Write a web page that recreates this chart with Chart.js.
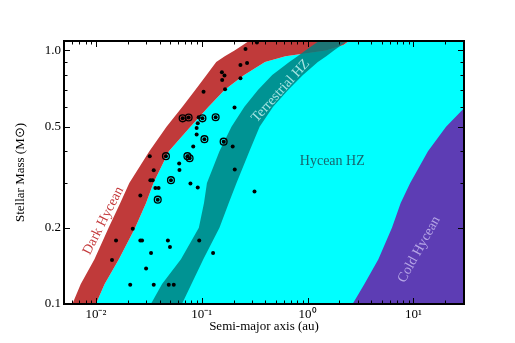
<!DOCTYPE html>
<html>
<head>
<meta charset="utf-8">
<script src="https://cdn.jsdelivr.net/npm/chart.js@4.4.0/dist/chart.umd.min.js"></script>
<style>
  html, body { margin: 0; padding: 0; background: #fff; }
  #wrap { width: 515px; height: 343px; }
</style>
</head>
<body>
<div id="wrap"><canvas id="chart" width="515" height="343"></canvas></div>
<script>
// stellar mass grid shared by the zone boundaries (M_sun)
const bandMass = [0.1, 0.12, 0.15, 0.2, 0.25, 0.3, 0.4, 0.5, 0.6, 0.7, 0.8, 0.9, 0.95, 1.0, 1.05, 1.1, 1.2];

// zone edges, semi-major axis (au) at each bandMass
const darkInner   = [0.0060, 0.0072, 0.0097, 0.0132, 0.0170, 0.0207, 0.0320, 0.0465, 0.0657, 0.0872, 0.111, 0.137, 0.165, 0.204, 0.245, 0.288, 0.40];
const hyceanInner = [0.0100, 0.0121, 0.0165, 0.0235, 0.0298, 0.0350, 0.0489, 0.0782, 0.116, 0.165, 0.252, 0.396, 0.618, 1.49, 2.18, 2.54, 3.52];
const terrInner   = [0.0331, 0.0422, 0.0636, 0.0939, 0.105, 0.112, 0.147, 0.191, 0.253, 0.341, 0.463, 0.671, 0.803, 0.953, 1.13, 1.32, 1.84];
const terrOuter   = [0.065, 0.080, 0.1035, 0.147, 0.180, 0.213, 0.282, 0.352, 0.472, 0.657, 0.903, 1.25, 1.50, 1.77, 2.09, 2.44, 3.30];
const coldInner   = [2.66, 3.44, 4.66, 6.26, 7.57, 9.31, 13.7, 20.3, 30.9, 45, 60, 80, 90, 100, 110, 120, 150];

// planets
const planetA = [0.259, 0.332, 0.232, 0.268, 0.155, 0.164, 0.156, 0.232, 0.166, 0.104, 0.204, 0.0935, 0.0917, 0.0895, 0.0895,
  0.0831, 0.196, 0.0323, 0.0612, 0.0616, 0.0352, 0.205, 0.0327, 0.0344, 0.0782, 0.0917, 0.0365, 0.0391, 0.0263, 0.315,
  0.0223, 0.0155, 0.0263, 0.0273, 0.0479, 0.0501, 0.0947, 0.0332, 0.128, 0.0142, 0.0298, 0.0211, 0.0352, 0.0488, 0.0544];
const planetMass = [1.013, 1.075, 0.877, 0.893, 0.820, 0.796, 0.765, 0.777, 0.704, 0.687, 0.596, 0.545, 0.516, 0.495, 0.466,
  0.418, 0.418, 0.383, 0.358, 0.338, 0.337, 0.339, 0.308, 0.308, 0.299, 0.288, 0.287, 0.287, 0.268, 0.278,
  0.198, 0.178, 0.178, 0.178, 0.178, 0.168, 0.178, 0.159, 0.159, 0.149, 0.138, 0.119, 0.119, 0.119, 0.119];
// planets drawn with a ring
const ringA = [0.066, 0.0752, 0.1015, 0.1353, 0.106, 0.161, 0.0459, 0.0732, 0.0768, 0.0512, 0.0384];
const ringMass = [0.540, 0.544, 0.540, 0.545, 0.447, 0.437, 0.383, 0.383, 0.376, 0.308, 0.258];

const xTickValues = [0.01, 0.1, 1, 10];
const xTickLabels = ["10\u207B\u00B2", "10\u207B\u00B9", "10\u2070", "10\u00B9"];
const yTickValues = [0.1, 0.2, 0.5, 1.0];
const yTickLabels = ["0.1", "0.2", "0.5", "1.0"];

const X_MIN = 0.005, X_MAX = 30, Y_MIN = 0.1, Y_MAX = 1.09;
const FAR = 1000;

const pts = (xs, ys) => xs.map((a, i) => ({ x: a, y: ys[i] }));
const band = (left, right) => pts(left, bandMass).concat(pts(right, bandMass).reverse());
const toRight = (edge) => [{ x: FAR, y: bandMass[0] }].concat(pts(edge, bandMass), [{ x: FAR, y: bandMass[bandMass.length - 1] }]);

function zone(data, color) {
  return {
    data: data,
    showLine: true,
    fill: "shape",
    backgroundColor: color,
    borderColor: "rgba(0,0,0,0)",
    borderWidth: 1,
    pointRadius: 0,
    tension: 0,
  };
}

const zoneLabels = [
  { text: "Dark Hycean", a: 0.01177, m: 0.2132, angle: -63, color: "#c4393b" },
  { text: "Terrestrial HZ", a: 0.555, m: 0.693, angle: -48, color: "#a6e4e2" },
  { text: "Hycean HZ", a: 1.71, m: 0.367, angle: 0, color: "#17666e" },
  { text: "Cold Hycean", a: 11.3, m: 0.164, angle: -61, color: "#b6a6e6" },
];

function matchTick(v, values, labels) {
  const i = values.findIndex((t) => Math.abs(t - v) / t < 1e-6);
  return i >= 0 ? labels[i] : "";
}

const labelPlugin = {
  id: "zoneLabels",
  afterDatasetsDraw(chart) {
    const { ctx, scales: { x, y } } = chart;
    ctx.save();
    ctx.font = "14px 'Liberation Serif'";
    ctx.textAlign = "center";
    ctx.textBaseline = "middle";
    zoneLabels.forEach((l) => {
      ctx.save();
      ctx.translate(x.getPixelForValue(l.a), y.getPixelForValue(l.m));
      ctx.rotate((l.angle * Math.PI) / 180);
      ctx.fillStyle = l.color;
      ctx.fillText(l.text, 0, 0);
      ctx.restore();
    });
    ctx.restore();
  },
};

function logSteps(min, max) {
  const out = [];
  for (let e = Math.floor(Math.log10(min)); e <= Math.ceil(Math.log10(max)); e++) {
    for (let m = 1; m <= 9; m++) {
      const v = m * Math.pow(10, e);
      if (v >= min * 0.999 && v <= max * 1.001) out.push({ v: v, m: m });
    }
  }
  return out;
}

const framePlugin = {
  id: "frame",
  afterDraw(chart) {
    const { ctx, chartArea: a, scales: { x, y } } = chart;
    ctx.save();
    ctx.strokeStyle = "#000";
    ctx.lineWidth = 1;
    ctx.beginPath();
    logSteps(X_MIN, X_MAX).forEach((t) => {
      const px = Math.round(x.getPixelForValue(t.v)) + 0.5;
      const len = t.m === 1 ? 6 : 3.5;
      ctx.moveTo(px, a.bottom); ctx.lineTo(px, a.bottom - len);
      ctx.moveTo(px, a.top); ctx.lineTo(px, a.top + len);
    });
    logSteps(Y_MIN, Y_MAX).forEach((t) => {
      const py = Math.round(y.getPixelForValue(t.v)) + 0.5;
      const major = yTickValues.some((v) => Math.abs(v - t.v) < 1e-6);
      const len = major ? 6 : 3.5;
      ctx.moveTo(a.left, py); ctx.lineTo(a.left + len, py);
      ctx.moveTo(a.right, py); ctx.lineTo(a.right - len, py);
    });
    ctx.stroke();
    ctx.lineWidth = 2;
    ctx.strokeRect(a.left, a.top, a.right - a.left, a.bottom - a.top);
    ctx.restore();
  },
};

Chart.defaults.font.family = "'Liberation Serif', serif";
Chart.defaults.color = "#000";

new Chart(document.getElementById("chart"), {
  type: "scatter",
  data: {
    datasets: [
      {
        data: pts(ringA, ringMass),
        pointRadius: 3.4,
        pointBackgroundColor: "rgba(0,0,0,0)",
        pointBorderColor: "#000",
        pointBorderWidth: 1.3,
      },
      {
        data: pts(planetA.concat(ringA), planetMass.concat(ringMass)),
        pointRadius: 2,
        pointBackgroundColor: "#000",
        pointBorderWidth: 0,
      },
      zone(band(terrInner, terrOuter), "rgba(0,128,128,0.85)"),
      zone(band(darkInner, hyceanInner), "#c03a3a"),
      zone(toRight(coldInner), "#5d3db4"),
      zone(toRight(hyceanInner), "#00ffff"),
    ],
  },
  options: {
    responsive: false,
    animation: false,
    events: [],
    layout: { padding: { left: 0, top: 41, right: 51, bottom: 0 } },
    plugins: { legend: { display: false }, tooltip: { enabled: false } },
    scales: {
      x: {
        type: "logarithmic",
        min: X_MIN,
        max: X_MAX,
        grid: { display: false, drawTicks: false },
        border: { display: false },
        ticks: {
          autoSkip: false,
          maxRotation: 0,
          padding: 3,
          font: { size: 13 },
          callback: (v) => matchTick(v, xTickValues, xTickLabels),
        },
        title: { display: true, text: "Semi-major axis (au)", font: { size: 13 }, padding: { top: 0, bottom: 9 } },
        afterFit: (scale) => { scale.height = 39; },
      },
      y: {
        type: "logarithmic",
        min: Y_MIN,
        max: Y_MAX,
        grid: { display: false, drawTicks: false },
        border: { display: false },
        ticks: {
          autoSkip: false,
          padding: 3,
          font: { size: 13 },
          callback: (v) => matchTick(v, yTickValues, yTickLabels),
        },
        title: { display: true, text: "Stellar Mass (M\u2299)", font: { size: 13 }, padding: { top: 13, bottom: 0 } },
        afterFit: (scale) => { scale.width = 64; },
      },
    },
  },
  plugins: [labelPlugin, framePlugin],
});
</script>
</body>
</html>
